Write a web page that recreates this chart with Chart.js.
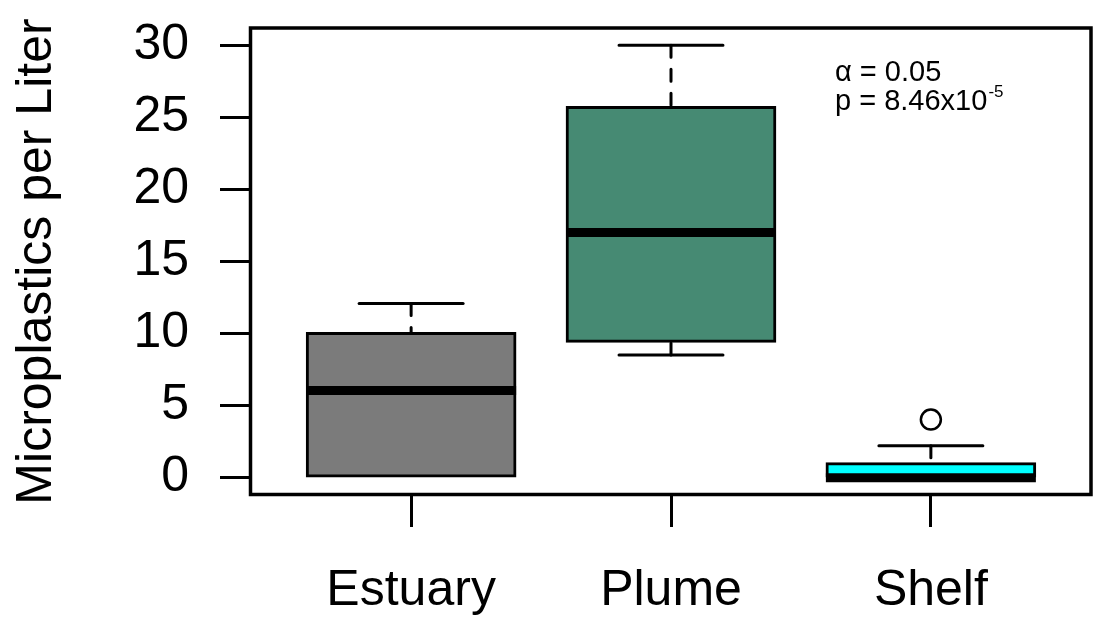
<!DOCTYPE html>
<html>
<head>
<meta charset="utf-8">
<script src="https://cdn.jsdelivr.net/npm/chart.js@4"></script>
<style>
	body { margin: 0; background: #fff; }
	canvas { display: block; }
</style>
</head>
<body>
<canvas id="myChart" width="1094" height="625"></canvas>
<script>
let categories = ['Estuary', 'Plume', 'Shelf']
let lowWhisker = [0, 8.52, 0]
let q1 = [0, 9.39, 0]
let median = [6.05, 17.01, 0]
let q3 = [10.08, 25.76, 1.05]
let highWhisker = [12.09, 30, 2.21]
let outliers = [[], [], [4.03]]
let boxColors = ['#7b7b7b', '#468a73', '#00ffff']
let yTicks = [0, 5, 10, 15, 20, 25, 30]

let font = 'Liberation Sans, Arial, sans-serif'

// whiskers and staples go under the boxes, medians and the frame on top
let boxParts = {
	id: 'boxParts',
	beforeDatasetsDraw(chart) {
		let ctx = chart.ctx
		let x = chart.scales.x
		let y = chart.scales.y
		ctx.save()
		ctx.strokeStyle = '#000'
		ctx.lineWidth = 3
		ctx.lineCap = 'round'
		for (let i = 0; i < categories.length; i++) {
			let cx = x.getPixelForValue(i + 1)
			ctx.setLineDash([12, 12])
			ctx.beginPath()
			ctx.moveTo(cx, y.getPixelForValue(highWhisker[i]))
			ctx.lineTo(cx, y.getPixelForValue(q3[i]))
			ctx.moveTo(cx, y.getPixelForValue(lowWhisker[i]))
			ctx.lineTo(cx, y.getPixelForValue(q1[i]))
			ctx.stroke()
			ctx.setLineDash([])
			let sl = x.getPixelForValue(i + 1 - 0.2)
			let sr = x.getPixelForValue(i + 1 + 0.2)
			ctx.beginPath()
			for (let v of [lowWhisker[i], highWhisker[i]]) {
				if (v == q1[i]) continue
				let py = y.getPixelForValue(v)
				ctx.moveTo(sl, py)
				ctx.lineTo(sr, py)
			}
			ctx.stroke()
		}
		ctx.restore()
	},
	afterDatasetsDraw(chart) {
		let ctx = chart.ctx
		let y = chart.scales.y
		let bars = chart.getDatasetMeta(0).data
		ctx.save()
		ctx.strokeStyle = '#000'
		ctx.lineWidth = 9
		ctx.lineCap = 'butt'
		for (let i = 0; i < bars.length; i++) {
			let b = bars[i].getProps(['x', 'width'], true)
			let py = y.getPixelForValue(median[i])
			ctx.beginPath()
			ctx.moveTo(b.x - b.width / 2, py)
			ctx.lineTo(b.x + b.width / 2, py)
			ctx.stroke()
		}
		ctx.restore()
	},
	afterDraw(chart) {
		let ctx = chart.ctx
		let a = chart.chartArea
		ctx.save()
		ctx.strokeStyle = '#000'
		ctx.lineWidth = 3.5
		ctx.strokeRect(a.left + 0.5, a.top, a.right - a.left - 1.5, a.bottom - a.top - 0.5)

		// test result in the upper right corner
		let tx = a.left + 585
		ctx.fillStyle = '#000'
		ctx.textAlign = 'left'
		ctx.textBaseline = 'alphabetic'
		ctx.font = '29px ' + font
		ctx.fillText('α = 0.05', tx, 81)
		let p = 'p = 8.46x10'
		ctx.fillText(p, tx, 110)
		let w = ctx.measureText(p).width
		ctx.font = '17px ' + font
		ctx.fillText('-5', tx + w + 1, 97)
		ctx.restore()
	}
}

let boxData = categories.map((c, i) => ({x: i + 1, y: [q1[i], q3[i]]}))
let outlierData = []
outliers.forEach((list, i) => list.forEach(v => outlierData.push({x: i + 1, y: v})))

new Chart('myChart', {
	type: 'bar',
	data: {
		datasets: [
			{
				data: boxData,
				backgroundColor: boxColors,
				borderColor: '#000',
				borderWidth: 3,
				borderSkipped: false,
				barThickness: 210,
				grouped: false
			},
			{
				type: 'scatter',
				data: outlierData,
				pointStyle: 'circle',
				pointRadius: 10,
				borderWidth: 2.5,
				borderColor: '#000',
				backgroundColor: 'rgba(0,0,0,0)'
			}
		]
	},
	options: {
		responsive: false,
		animation: false,
		devicePixelRatio: 1,
		layout: {autoPadding: false, padding: {top: 28, right: 2, left: 0, bottom: 0}},
		plugins: {
			legend: {display: false},
			tooltip: {enabled: false}
		},
		scales: {
			x: {
				type: 'linear',
				min: 0.38,
				max: 3.62,
				offset: false,
				afterFit(scale) {
					scale.height = 130
					scale.paddingLeft = 0
					scale.paddingRight = 0
				},
				afterBuildTicks(scale) { scale.ticks = categories.map((c, i) => ({value: i + 1})) },
				border: {display: false},
				grid: {offset: false, drawOnChartArea: false, drawTicks: true, tickLength: 32, tickWidth: 3, tickColor: '#000'},
				ticks: {
					autoSkip: false,
					maxRotation: 0,
					padding: 34,
					color: '#000',
					font: {family: font, size: 50},
					callback: v => categories[v - 1]
				}
			},
			y: {
				min: -1.2,
				max: 31.2,
				afterFit(scale) {
					scale.width = 250
					scale.paddingTop = 0
					scale.paddingBottom = 0
				},
				afterBuildTicks(scale) { scale.ticks = yTicks.map(v => ({value: v})) },
				border: {display: false},
				grid: {drawOnChartArea: false, drawTicks: true, tickLength: 30, tickWidth: 3, tickColor: '#000'},
				ticks: {
					padding: 31,
					color: '#000',
					font: {family: font, size: 50}
				},
				title: {
					display: true,
					text: 'Microplastics per Liter',
					color: '#000',
					font: {family: font, size: 50},
					padding: {top: 7, bottom: 0}
				}
			}
		}
	},
	plugins: [boxParts]
})
</script>
</body>
</html>
